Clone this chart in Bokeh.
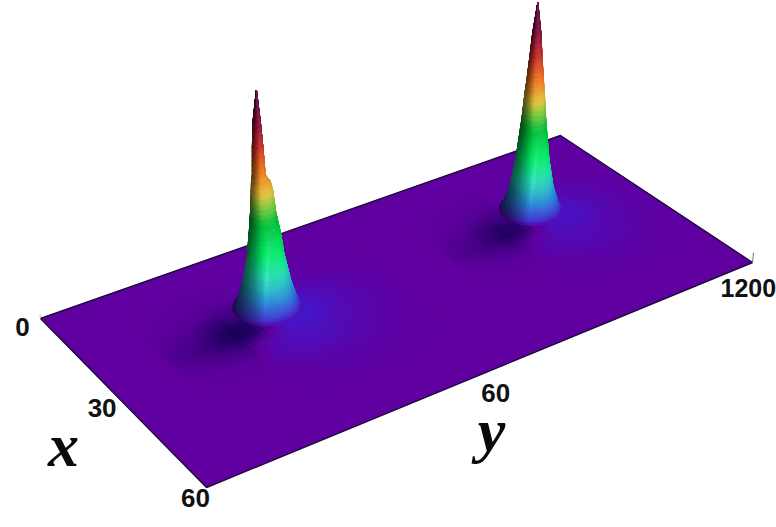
import numpy as np
from bokeh.plotting import figure
from bokeh.models import ColumnDataSource
from bokeh.core.properties import value
from bokeh.embed import file_html
from bokeh.resources import INLINE

# ---- values ----
x_ticks = [0, 30, 60]
y_ticks = [60, 120]
y_tick_labels = ["60", "1200"]
peak_x = [20.0, 20.0]
peak_y = [36.0, 97.0]
levels = [0, 0.03, 0.115, 0.25, 0.35, 0.45, 0.55, 0.59, 0.62, 0.75, 0.86, 1.0]
p1_right = [6.3, 5.6, 4.55, 3.5, 3.05, 2.35, 2.0, 1.65, 0.82, 0.63, 0.41, 0]
p1_left = [6.3, 5.5, 4.25, 3.15, 2.6, 2.15, 1.8, 1.69, 1.47, 1.2, 0.88, 0]
p2_right = [6.2, 5.4, 4.25, 3.25, 2.77, 2.3, 1.95, 1.8, 1.65, 1.15, 0.77, 0]
p2_left = [6.2, 5.4, 4.25, 3.25, 2.77, 2.3, 1.95, 1.8, 1.65, 1.15, 0.77, 0]
colour_z = [0, 0.01, 0.03, 0.09, 0.14, 0.2, 0.29, 0.42, 0.5, 0.55, 0.65, 0.77, 0.87, 1.0]
colour_r = [96, 70, 62, 42, 38, 30, 0, 0, 130, 225, 240, 195, 130, 90]
colour_g = [0, 40, 72, 140, 190, 225, 235, 190, 200, 195, 120, 45, 20, 15]
colour_b = [160, 205, 212, 215, 200, 170, 100, 60, 60, 60, 30, 45, 65, 75]
facet_s = [-1, -0.8, -0.5, -0.2, 0, 0.15, 0.3, 0.5, 0.8, 1]
facet_shade = [-0.6, -0.5, -0.32, -0.12, 0.0, 0.06, 0.08, 0.12, 0.08, -0.05]
streak_z = [0, 0.1, 0.2, 0.3, 0.4]
streak_s = [-0.05, 0.0, 0.1, 0.25, 0.35]
streak_gain = [0.05, 0.2, 0.3, 0.2, 0]
tint_dx = [-12, -6, -3, 0, 3, 6, 10, 14, 20, 28]
tint_dy = [-24, -16, -10, -6, 0, 6, 10, 16, 24]
tint = [
    [0, 0, 0, 0, 0, 0, 0, 0, 0],
    [0, -.05, -.1, -.1, .1, .1, .1, .05, 0],
    [0, -.1, -.25, -.3, .3, .3, .2, .1, 0],
    [-.05, -.25, -.6, -.5, .6, .6, .4, .2, .05],
    [-.1, -.4, -.95, -.9, .7, .8, .5, .2, .05],
    [-.1, -.5, -1, -.8, .8, .8, .5, .25, .05],
    [-.05, -.25, -.4, .2, .6, .6, .4, .2, .05],
    [0, -.05, -.05, .3, .5, .45, .3, .15, 0],
    [0, 0, 0, .1, .2, .2, .15, .1, 0],
    [0, 0, 0, 0, .05, .05, .05, 0, 0],
]

# ---- view: where the floor's corners land and how verticals converge ----
CORNERS = dict(p0=(40, 318), p1=(206, 487), p2=(752, 262), p3=(560, 135))
VX, VY, S = 421.0, 3376.0, -0.0665
(x0, y0), (x1, y1), (x2, y2), (x3, y3) = (CORNERS[k] for k in ("p0", "p1", "p2", "p3"))
dx1, dx2, sx = x1 - x2, x3 - x2, x0 - x1 + x2 - x3
dy1, dy2, sy = y1 - y2, y3 - y2, y0 - y1 + y2 - y3
den = dx1 * dy2 - dx2 * dy1
G = (sx * dy2 - dx2 * sy) / den
H = (dx1 * sy - sx * dy1) / den
A, B, C = x1 - x0 + G * x1, x3 - x0 + H * x3, x0
D, E, F = y1 - y0 + G * y1, y3 - y0 + H * y3, y0


def project(x, y, z=0.0):
    u, v = np.asarray(x, float) / 60.0, np.asarray(y, float) / 120.0
    w = G * u + H * v + 1
    px, py = (A * u + B * v + C) / w, (D * u + E * v + F) / w
    t = np.asarray(z, float) * S / w
    return (px + t * VX) / (1 + t), (py + t * VY) / (1 + t)


def rainbow(z):
    return np.array([np.interp(z, colour_z, colour_r),
                     np.interp(z, colour_z, colour_g),
                     np.interp(z, colour_z, colour_b)])


def hexcol(c):
    c = np.clip(np.round(c), 0, 255).astype(int)
    return "#%02x%02x%02x" % tuple(c)


GROUND = rainbow(0.0)
BLUE = np.array([62, 28, 212.0])
DARK = np.array([22, 0, 86.0])

xs_all, ys_all, cols = [], [], []


def add(xs, ys, col):
    xs_all.append(list(map(float, xs)))
    ys_all.append(list(map(float, ys)))
    cols.append(col)


def tint_at(dx, dy):
    rows = [np.interp(dy, tint_dy, row) for row in tint]
    return np.interp(dx, tint_dx, rows)


def add_skirt(px, py, strength):
    ax = np.linspace(tint_dx[0], tint_dx[-1], 40)
    ay = np.linspace(tint_dy[0], tint_dy[-1], 40)
    for i in range(len(ax) - 1):
        for j in range(len(ay) - 1):
            t = tint_at((ax[i] + ax[i + 1]) / 2, (ay[j] + ay[j + 1]) / 2) * strength
            if abs(t) < 0.005:
                continue
            c = GROUND + (BLUE - GROUND) * t if t > 0 else GROUND + (DARK - GROUND) * (-t)
            qx = np.clip(np.array([ax[i], ax[i + 1], ax[i + 1], ax[i]]) + px, 0, 60)
            qy = np.clip(np.array([ay[j], ay[j], ay[j + 1], ay[j + 1]]) + py, 0, 120)
            sxx, syy = project(qx, qy)
            add(sxx, syy, hexcol(c))


def add_peak(px, py, left, right):
    fine = np.unique(np.concatenate([np.linspace(0, 1, 46), np.linspace(0, 0.14, 15), levels]))
    rl, rr = np.interp(fine, levels, left), np.interp(fine, levels, right)
    th = np.linspace(0, 2 * np.pi, 61)
    cx, cy = project(px, py)
    ex, ey = project(px + np.cos(th), py + np.sin(th))
    ox, oy = ex - cx, ey - cy
    s = ox / np.abs(ox).max()
    back, front = [], []
    for i in range(len(fine) - 1):
        for j in range(len(th) - 1):
            pts_x, pts_y = [], []
            for ii, jj in ((i, j), (i, j + 1), (i + 1, j + 1), (i + 1, j)):
                mix = (s[jj] + 1) / 2
                r = rl[ii] * (1 - mix) + rr[ii] * mix
                X, Y = project(px + r * np.cos(th[jj]), py + r * np.sin(th[jj]), fine[ii])
                pts_x.append(X)
                pts_y.append(Y)
            zm = (fine[i] + fine[i + 1]) / 2
            base = rainbow(zm)
            sm = (s[j] + s[j + 1]) / 2
            sh = np.interp(sm, facet_s, facet_shade)
            sc = np.interp(zm, streak_z, streak_s)
            sh += np.interp(zm, streak_z, streak_gain) * max(0.0, 1 - abs(sm - sc) / 0.16)
            if sh > 0:
                col = base + (255 - base) * sh * 0.55 * min(1.0, zm / 0.15)
            else:
                col = base * (1 + sh)
            item = (pts_x, pts_y, hexcol(col))
            (front if oy[j] + oy[j + 1] > 0 else back).append(item)
    for it in back + front:
        add(*it)


# floor
fx, fy = project(np.array([0, 60, 60, 0]), np.array([0, 0, 120, 120]))
add(fx, fy, hexcol(GROUND))
add_skirt(peak_x[0], peak_y[0], 1.0)
add_skirt(peak_x[1], peak_y[1], 0.85)

p = figure(width=776, height=527, x_range=(0, 776), y_range=(527, 0),
           output_backend="svg", toolbar_location=None, min_border=0)
p.axis.visible = False
p.grid.visible = False
p.outline_line_color = None
p.background_fill_color = "white"

src = ColumnDataSource(dict(xs=xs_all, ys=ys_all, c=cols))
p.patches("xs", "ys", source=src, fill_color="c", line_color="c", line_width=0.5)

# floor edges
ex, ey = project(np.array([0, 0, 60, 60, 0]), np.array([0, 120, 120, 0, 0]))
p.line(ex, ey, line_color="#1c0c3c", line_width=1.4)
tx, ty = project(np.array([60, 60]), np.array([120, 120]), np.array([0, 0.05]))
p.line(tx, ty, line_color="#777777", line_width=1)
tx, ty = project(np.array([0, 0]), np.array([0, 0]), np.array([0, 0.02]))
p.line(tx, ty, line_color="#bbbbbb", line_width=1)

# surface
pk_start = len(xs_all)
add_peak(peak_x[0], peak_y[0], p1_left, p1_right)
add_peak(peak_x[1], peak_y[1], p2_left, p2_right)
src2 = ColumnDataSource(dict(xs=xs_all[pk_start:], ys=ys_all[pk_start:], c=cols[pk_start:]))
p.patches("xs", "ys", source=src2, fill_color="c", line_color="c", line_width=0.5)

# tick labels
FONT = value("Liberation Sans")
xl_off = [(-18, 8), (-17, 9), (-11, 10)]
for t, (ox, oy) in zip(x_ticks, xl_off):
    X, Y = project(t, 0)
    p.text([float(X) + ox], [float(Y) + oy], text=[str(t)], text_font=FONT, text_font_style="bold",
           text_font_size="26px", text_align="center", text_baseline="middle", text_color="#111111")
yl_off = [(-5, 27, "center", "26px"), (-32, 25, "left", "25px")]
for t, lab, (ox, oy, al, fs) in zip(y_ticks, y_tick_labels, yl_off):
    X, Y = project(60, t)
    p.text([float(X) + ox], [float(Y) + oy], text=[lab], text_font=FONT, text_font_style="bold",
           text_font_size=fs, text_align=al, text_baseline="middle", text_color="#111111")
SERIF = value("Liberation Serif")
p.text([63], [444], text=["x"], text_font=SERIF, text_font_style="bold italic", text_font_size="62px",
       text_align="center", text_baseline="middle", text_color="#0a0a0a")
p.text([491], [429], text=["y"], text_font=SERIF, text_font_style="bold italic", text_font_size="62px",
       text_align="center", text_baseline="middle", text_color="#0a0a0a")

open("out.html", "w").write(file_html(p, INLINE))
